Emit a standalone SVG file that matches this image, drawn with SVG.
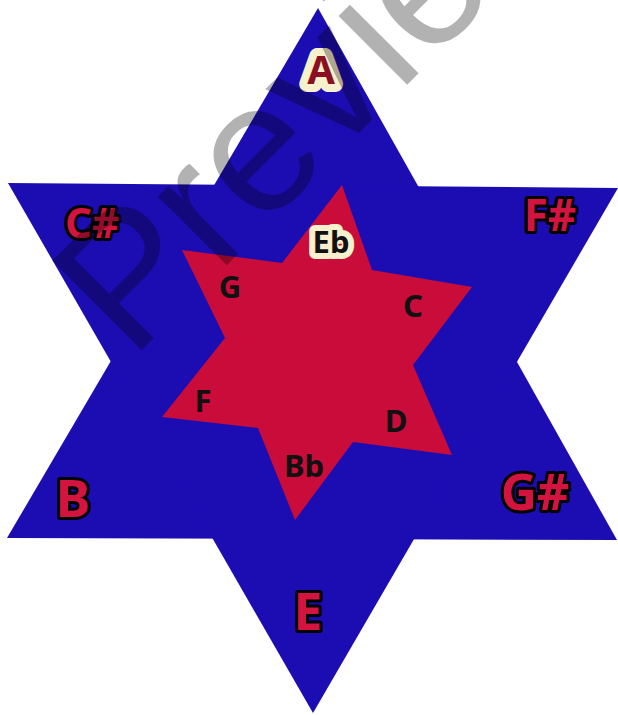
<svg xmlns="http://www.w3.org/2000/svg" width="618" height="715" viewBox="0 0 618 715">
  <style>
    .outer { font-family: "Noto Sans", "Liberation Sans", sans-serif; font-weight: 700; fill: #d2143f; stroke: #000; stroke-width: 6; stroke-linejoin: round; paint-order: stroke; text-anchor: middle; }
    .inner { font-family: "Noto Sans", "Liberation Sans", sans-serif; font-weight: 700; font-size: 31px; fill: #111; text-anchor: middle; }
    .cream { stroke: #f7f0cc; stroke-linejoin: round; paint-order: stroke; }
    .wm { font-family: "Liberation Sans", sans-serif; font-size: 184px; fill: #000; fill-opacity: 0.3; }
  </style>
  <rect width="618" height="715" fill="#ffffff"/>
  <g id="outer-star" fill="#1c0db3">
    <polygon points="318,8 7,538 617,540"/>
    <polygon points="8,183 618,188 313,713"/>
  </g>
  <g id="inner-star">
    <polygon fill="#c90c3a" points="342,185 372,270 472,287 413,365 452,455 353,442 295,520 258,428 162,417 225,338 182,250 282,263"/>
  </g>
  <g id="node-A"><text class="outer cream" x="321" y="84" font-size="40" style="fill:#8a0f22;stroke:#f7f0cc;stroke-width:16">A</text></g>
  <g id="node-Csharp"><text class="outer" x="92" y="238" font-size="42">C#</text></g>
  <g id="node-Fsharp"><text class="outer" x="550" y="231" font-size="44">F#</text></g>
  <g id="node-B"><text class="outer" x="73" y="517" font-size="52">B</text></g>
  <g id="node-Gsharp"><text class="outer" x="535" y="510" font-size="50">G#</text></g>
  <g id="node-E"><text class="outer" x="308" y="630" font-size="52">E</text></g>
  <g id="node-Eb"><text class="inner cream" x="331" y="253" style="stroke-width:12">Eb</text></g>
  <g id="node-G"><text class="inner" x="230" y="298">G</text></g>
  <g id="node-C"><text class="inner" x="413" y="317">C</text></g>
  <g id="node-F"><text class="inner" x="203" y="412">F</text></g>
  <g id="node-D"><text class="inner" x="396" y="432">D</text></g>
  <g id="node-Bb"><text class="inner" x="304" y="477">Bb</text></g>
  <g id="connectors"/>
  <text class="wm" transform="translate(131,361) rotate(-45)">Preview</text>
</svg>
